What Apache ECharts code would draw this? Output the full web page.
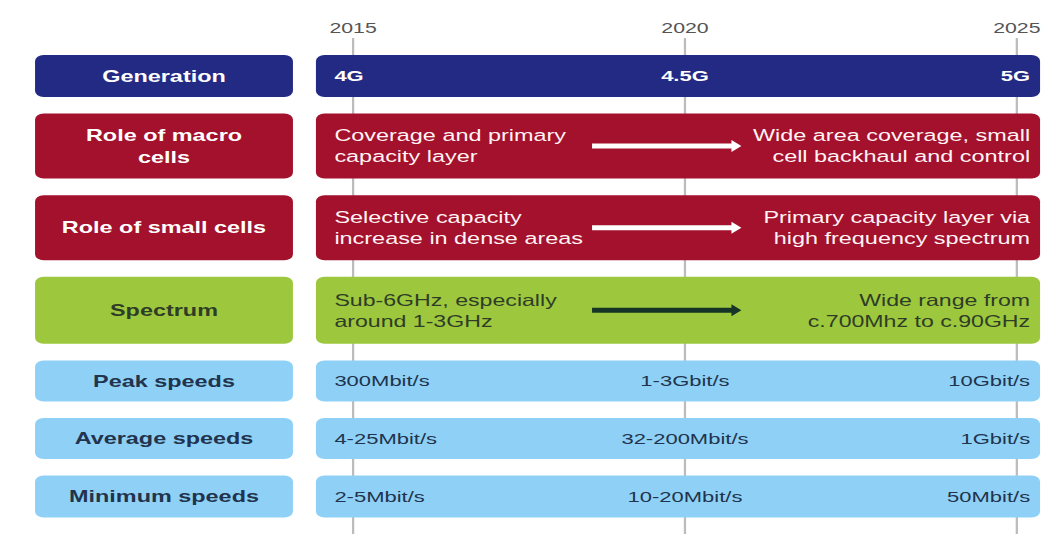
<!DOCTYPE html>
<html>
<head>
<meta charset="utf-8">
<script src="https://cdn.jsdelivr.net/npm/echarts@6/dist/echarts.min.js"></script>
<style>
  html, body { margin: 0; padding: 0; background: #ffffff; overflow: hidden; }
  /* the chart is laid out narrow and widened by a horizontal stretch */
  #chart { width: 737px; height: 534px; transform: scaleX(1.4193); transform-origin: 0 0; }
</style>
</head>
<body>
<div id="chart"></div>
<script>
// ---- content ----
const rowLabels = [
  'Generation',
  'Role of macro\ncells',
  'Role of small cells',
  'Spectrum',
  'Peak speeds',
  'Average speeds',
  'Minimum speeds'
];
const timelineYears = [2015, 2020, 2025];
const startText = [
  '4G',
  'Coverage and primary\ncapacity layer',
  'Selective capacity\nincrease in dense areas',
  'Sub-6GHz, especially\naround 1-3GHz',
  '300Mbit/s',
  '4-25Mbit/s',
  '2-5Mbit/s'
];
const midText = ['4.5G', '', '', '', '1-3Gbit/s', '32-200Mbit/s', '10-20Mbit/s'];
const endText = [
  '5G',
  'Wide area coverage, small\ncell backhaul and control',
  'Primary capacity layer via\nhigh frequency spectrum',
  'Wide range from\nc.700Mhz to c.90GHz',
  '10Gbit/s',
  '1Gbit/s',
  '50Mbit/s'
];
// transition arrows (from year, to year) per row
const transitionSpan = [null, [2018.6, 2020.85], [2018.6, 2020.85], [2018.6, 2020.85], null, null, null];
const rowKind = ['generation', 'role', 'role', 'spectrum', 'speed', 'speed', 'speed'];

// ---- styling & layout ----
const FONT = '"Liberation Sans", Arial, Helvetica, sans-serif';
const THEME = {
  generation: { fill: '#232a84', label: '#ffffff', text: '#ffffff', weight: 'bold', size: 15.5 },
  role:       { fill: '#a3112c', label: '#ffffff', text: '#fff3f5', weight: 'normal', size: 16.5, arrow: '#ffffff' },
  spectrum:   { fill: '#9dc83e', label: '#2f3d26', text: '#2f3d26', weight: 'normal', size: 16.3, arrow: '#163527' },
  speed:      { fill: '#8fd1f6', label: '#22344d', text: '#22344d', weight: 'normal', size: 15.5 }
};
const ROW_H = [42, 65, 65, 67, 41, 41, 42];
const ROW_GAP = 16.6;
const FIRST_TOP = 17;
const Y_SPAN = 496;
const rowTop = [];
ROW_H.reduce((acc, h, i) => { rowTop[i] = acc; return acc + h + ROW_GAP; }, FIRST_TOP);

function rowRect(api, i, xVal) {
  const y0 = api.coord([xVal, rowTop[i]])[1];
  const y1 = api.coord([xVal, rowTop[i] + ROW_H[i]])[1];
  return { y: y0, h: y1 - y0 };
}

const chart = echarts.init(document.getElementById('chart'), null, { renderer: 'svg' });

chart.setOption({
  backgroundColor: '#ffffff',
  animation: false,
  grid: [
    { left: 24.7, top: 38, width: 181.7, bottom: 0 },
    { left: 222.6, top: 38, right: 4.2, bottom: 0 }
  ],
  xAxis: [
    { gridIndex: 0, type: 'value', min: 0, max: 1, show: false },
    {
      gridIndex: 1, type: 'value', position: 'top', min: 2014.44, max: 2025.35,
      axisLine: { show: false }, axisTick: { show: false }, splitLine: { show: false },
      axisLabel: {
        customValues: timelineYears, formatter: v => String(v),
        color: '#555555', fontSize: 15, fontFamily: FONT, margin: 3
      }
    }
  ],
  yAxis: [
    { gridIndex: 0, type: 'value', inverse: true, min: 0, max: Y_SPAN, show: false },
    { gridIndex: 1, type: 'value', inverse: true, min: 0, max: Y_SPAN, show: false }
  ],
  series: [
    {
      name: 'year lines',
      type: 'custom',
      xAxisIndex: 1, yAxisIndex: 1,
      z: 1,
      silent: true,
      data: timelineYears.map(y => [y]),
      renderItem: (params, api) => {
        const cs = params.coordSys;
        const x = api.coord([api.value(0), 0])[0];
        return {
          type: 'line',
          shape: { x1: x, y1: cs.y, x2: x, y2: cs.y + cs.height },
          style: { stroke: '#bcbcbc', lineWidth: 1.6 }
        };
      }
    },
    {
      name: 'row labels',
      type: 'custom',
      xAxisIndex: 0, yAxisIndex: 0,
      z: 2,
      data: rowLabels.map((_, i) => [i]),
      renderItem: (params, api) => {
        const i = api.value(0);
        const cs = params.coordSys;
        const th = THEME[rowKind[i]];
        const r = rowRect(api, i, 0);
        return {
          type: 'group',
          children: [
            { type: 'rect', shape: { x: cs.x, y: r.y, width: cs.width, height: r.h, r: 6 }, style: { fill: th.fill } },
            {
              type: 'text', x: cs.x + cs.width / 2, y: r.y + r.h / 2,
              style: {
                text: rowLabels[i], fill: th.label, fontSize: 16.5, fontWeight: 'bold', fontFamily: FONT,
                align: 'center', verticalAlign: 'middle', lineHeight: 22
              }
            }
          ]
        };
      }
    },
    {
      name: 'timeline',
      type: 'custom',
      xAxisIndex: 1, yAxisIndex: 1,
      z: 2,
      data: rowLabels.map((_, i) => [i]),
      renderItem: (params, api) => {
        const i = api.value(0);
        const cs = params.coordSys;
        const th = THEME[rowKind[i]];
        const r = rowRect(api, i, timelineYears[0]);
        const cy = r.y + r.h / 2;
        const txt = (text, x, align) => ({
          type: 'text', x: x, y: cy,
          style: {
            text: text, fill: th.text, fontSize: th.size, fontWeight: th.weight, fontFamily: FONT,
            align: align, verticalAlign: 'middle', lineHeight: 21
          }
        });
        const children = [
          { type: 'rect', shape: { x: cs.x, y: r.y, width: cs.width, height: r.h, r: 6 }, style: { fill: th.fill } },
          txt(startText[i], cs.x + 13, 'left'),
          txt(endText[i], cs.x + cs.width - 7, 'right')
        ];
        if (midText[i]) {
          children.push(txt(midText[i], api.coord([timelineYears[1], 0])[0], 'center'));
        }
        const span = transitionSpan[i];
        if (span) {
          const xa = api.coord([span[0], 0])[0];
          const xb = api.coord([span[1], 0])[0];
          const head = 7;
          children.push({
            type: 'polygon',
            shape: {
              points: [
                [xa, cy - 2.5], [xb - head, cy - 2.5], [xb - head, cy - 6],
                [xb, cy], [xb - head, cy + 6], [xb - head, cy + 2.5], [xa, cy + 2.5]
              ]
            },
            style: { fill: th.arrow }
          });
        }
        return { type: 'group', children: children };
      }
    }
  ]
});
</script>
</body>
</html>
